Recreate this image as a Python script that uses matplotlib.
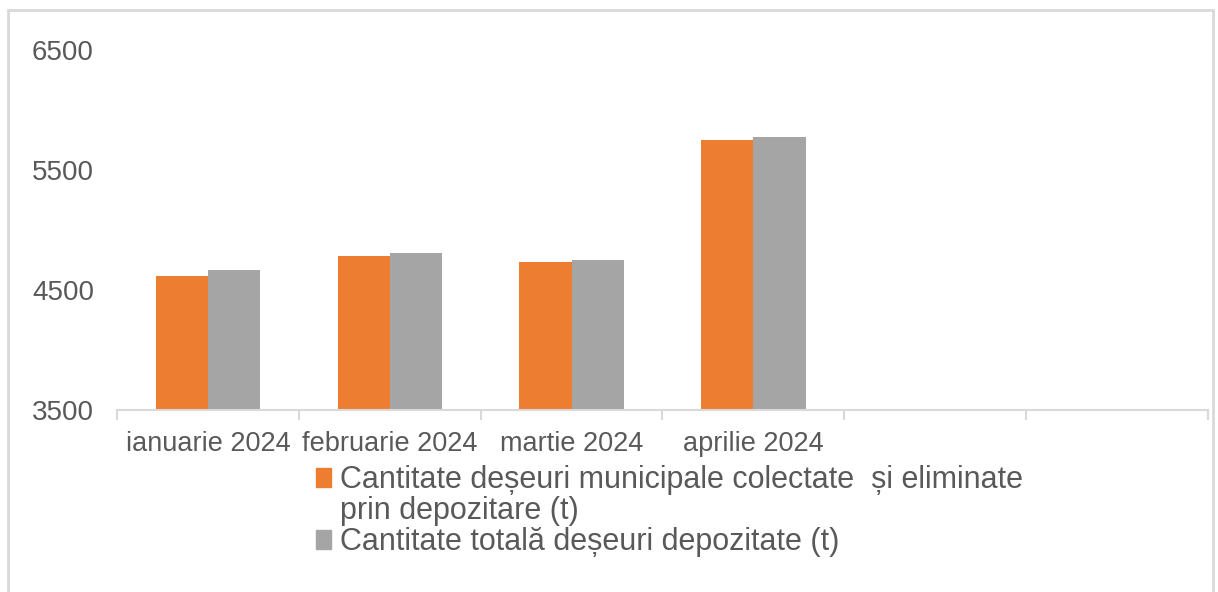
import numpy as np
import matplotlib.pyplot as plt
from matplotlib.patches import Rectangle, Patch

# data
luni = ["ianuarie 2024", "februarie 2024", "martie 2024", "aprilie 2024", "", ""]
eliminate = [4617, 4781, 4736, 5753]
totala = [4664, 4811, 4747, 5775]
eticheta1 = "Cantitate deșeuri municipale colectate  și eliminate"
eticheta1b = "prin depozitare (t)"
eticheta2 = "Cantitate totală deșeuri depozitate (t)"
y_ticks = [3500, 4500, 5500, 6500]

plt.rcParams['font.family'] = ['Liberation Sans', 'DejaVu Sans']
text_col = '#595959'
ax_col = '#d9d9d9'

W, H = 1218, 592
fig = plt.figure(figsize=(W / 100, H / 100), dpi=100)
ax = fig.add_axes([117 / W, 1 - 410 / H, (1208 - 117) / W, (410 - 50) / H])

x = np.arange(len(eliminate))
w = 0.287
ax.bar(x - w / 2, np.array(eliminate) - 3500, w, bottom=3500, color='#ED7D31', zorder=2)
ax.bar(x + w / 2, np.array(totala) - 3500, w, bottom=3500, color='#A5A5A5', zorder=2)

ax.set_xlim(-0.5, len(luni) - 0.5)
ax.set_ylim(3500, 6500)
ax.set_yticks(y_ticks)
ax.set_xticks(np.arange(len(luni)))
ax.set_xticklabels(luni)
ax.set_xticks(np.arange(len(luni) + 1) - 0.5, minor=True)

for s in ['top', 'right', 'left']:
    ax.spines[s].set_visible(False)
ax.spines['bottom'].set_color(ax_col)
ax.spines['bottom'].set_linewidth(1.5)
ax.spines['bottom'].set_zorder(3)

ax.tick_params(axis='y', length=0, pad=16.6, labelsize=20, labelcolor=text_col)
ax.tick_params(axis='x', which='major', length=0, pad=15, labelsize=19.5, labelcolor=text_col)
ax.tick_params(axis='x', which='minor', length=7, width=1.5, color=ax_col)

handles = [Patch(color='#ED7D31'), Patch(color='none'), Patch(color='#A5A5A5')]
labels = [eticheta1, eticheta1b, eticheta2]
leg = fig.legend(handles, labels, loc='upper left', bbox_to_anchor=(316 / W, 1 - 465 / H),
                 frameon=False, fontsize=22, handlelength=0.48, handleheight=0.6,
                 handletextpad=0.3, labelspacing=0.04, borderpad=0, borderaxespad=0)
for t in leg.get_texts():
    t.set_color(text_col)

# chart border
fig.patches.append(Rectangle((8 / W, -0.1), (1213 - 8) / W, 1.1 - 10 / H,
                             transform=fig.transFigure, fill=False,
                             edgecolor=ax_col, linewidth=2))

fig.savefig("out.png", dpi=100)
